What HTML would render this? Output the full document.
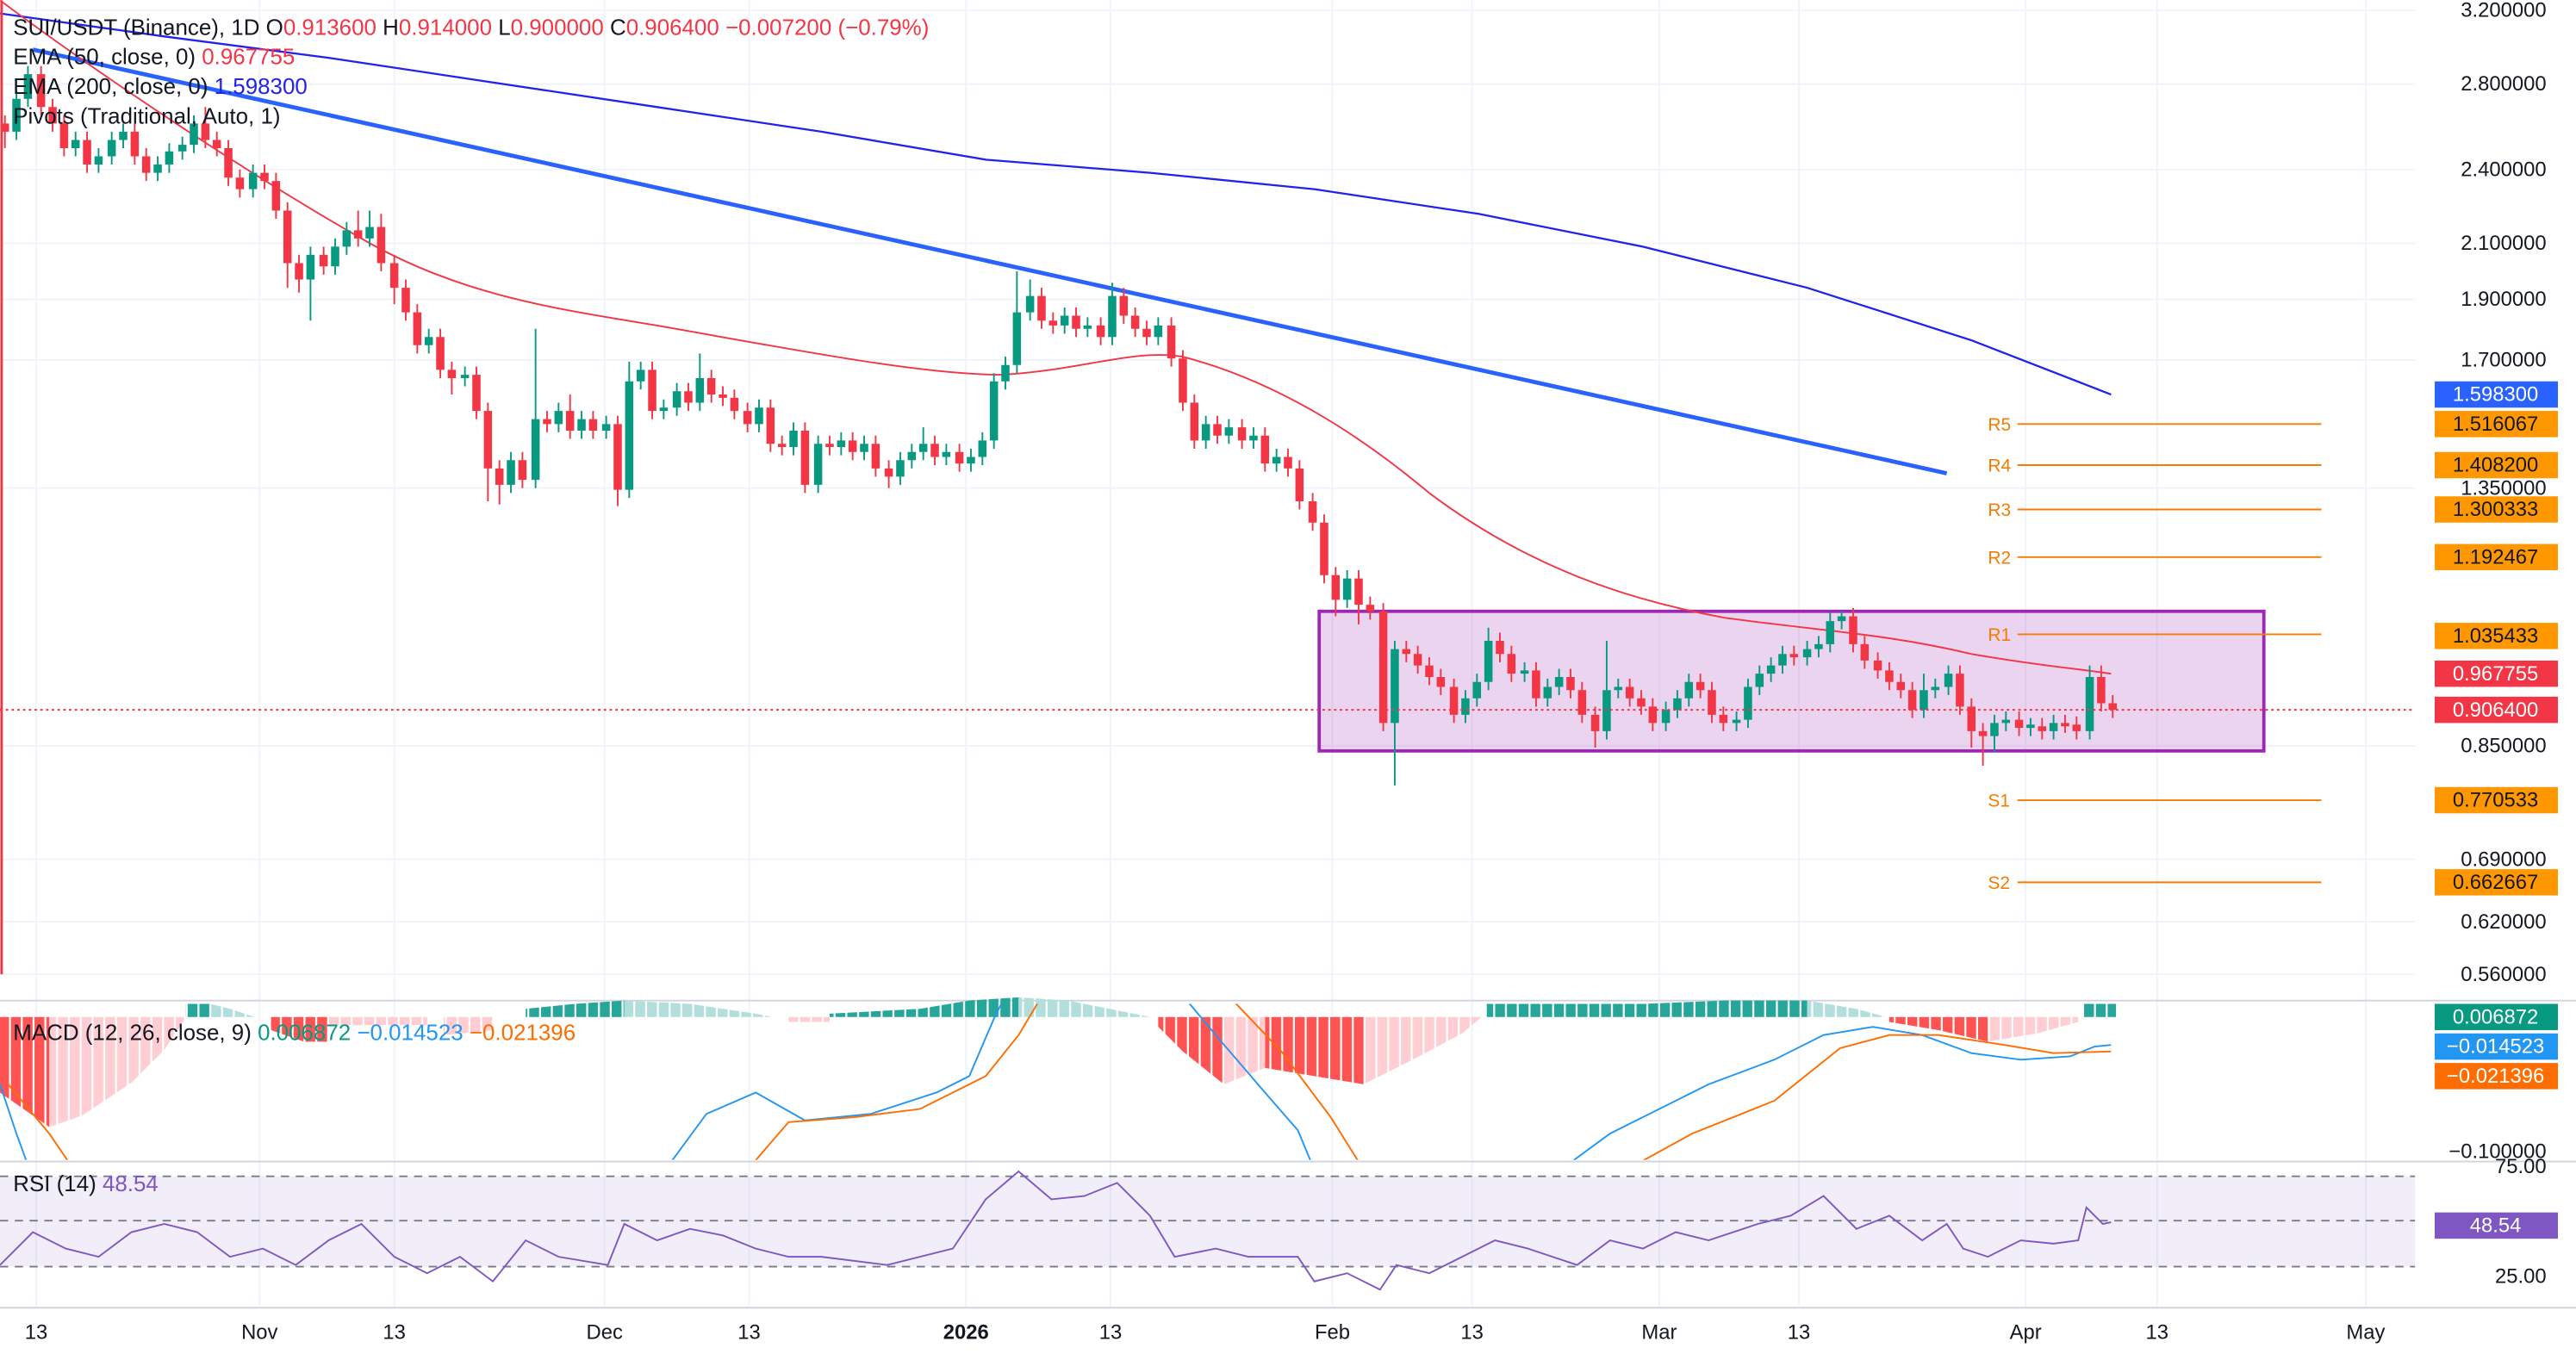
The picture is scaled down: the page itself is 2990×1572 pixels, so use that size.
<!DOCTYPE html>
<html><head><meta charset="utf-8"><style>
html,body{margin:0;padding:0;background:#fff;width:2990px;height:1572px;overflow:hidden}
svg{display:block}
text{font-family:"Liberation Sans",sans-serif}
</style></head><body>
<svg width="2990" height="1572" viewBox="0 0 1568 824" xmlns="http://www.w3.org/2000/svg">
<defs>
<clipPath id="cm"><rect x="0" y="611" width="1470" height="95"/></clipPath>
<clipPath id="cp"><rect x="0" y="0" width="1470" height="607"/></clipPath>
<pattern id="pG" width="7.17" height="10" patternUnits="userSpaceOnUse" x="-0.5"><rect width="6" height="10" fill="#26a69a"/></pattern>
<pattern id="pg" width="7.17" height="10" patternUnits="userSpaceOnUse" x="-0.5"><rect width="6" height="10" fill="#b2dfdb"/></pattern>
<pattern id="pR" width="7.17" height="10" patternUnits="userSpaceOnUse" x="-0.5"><rect width="6" height="10" fill="#ff5252"/></pattern>
<pattern id="pr" width="7.17" height="10" patternUnits="userSpaceOnUse" x="-0.5"><rect width="6" height="10" fill="#ffcdd2"/></pattern>
</defs>
<rect width="1568" height="824" fill="#fff"/>
<g stroke="#f0f3fa" stroke-width="1">
<line x1="0" y1="6" x2="1470" y2="6"/><line x1="0" y1="51" x2="1470" y2="51"/><line x1="0" y1="103" x2="1470" y2="103"/><line x1="0" y1="148" x2="1470" y2="148"/><line x1="0" y1="182" x2="1470" y2="182"/><line x1="0" y1="219" x2="1470" y2="219"/><line x1="0" y1="297" x2="1470" y2="297"/><line x1="0" y1="454" x2="1470" y2="454"/><line x1="0" y1="523" x2="1470" y2="523"/><line x1="0" y1="561" x2="1470" y2="561"/><line x1="0" y1="593" x2="1470" y2="593"/>
<line x1="22" y1="0" x2="22" y2="796"/><line x1="158" y1="0" x2="158" y2="796"/><line x1="240" y1="0" x2="240" y2="796"/><line x1="368" y1="0" x2="368" y2="796"/><line x1="456" y1="0" x2="456" y2="796"/><line x1="588" y1="0" x2="588" y2="796"/><line x1="676" y1="0" x2="676" y2="796"/><line x1="811" y1="0" x2="811" y2="796"/><line x1="896" y1="0" x2="896" y2="796"/><line x1="1010" y1="0" x2="1010" y2="796"/><line x1="1095" y1="0" x2="1095" y2="796"/><line x1="1233" y1="0" x2="1233" y2="796"/><line x1="1313" y1="0" x2="1313" y2="796"/><line x1="1440" y1="0" x2="1440" y2="796"/>
</g>
<line x1="0" y1="609" x2="1568" y2="609" stroke="#d1d4dc"/>
<line x1="0" y1="707" x2="1568" y2="707" stroke="#d1d4dc"/>
<line x1="0" y1="796" x2="1568" y2="796" stroke="#d1d4dc"/>

<rect x="803" y="372" width="575" height="85" fill="rgba(156,39,176,0.2)" stroke="#9c27b0" stroke-width="2"/>

<g stroke="#f57c00" stroke-width="1">
<line x1="1228" y1="258" x2="1413" y2="258"/><line x1="1228" y1="283" x2="1413" y2="283"/><line x1="1228" y1="310" x2="1413" y2="310"/><line x1="1228" y1="339" x2="1413" y2="339"/><line x1="1228" y1="386" x2="1413" y2="386"/><line x1="1228" y1="487" x2="1413" y2="487"/><line x1="1228" y1="537" x2="1413" y2="537"/>
</g>
<g font-size="11" fill="#f57c00">
<text x="1210" y="262">R5</text><text x="1210" y="287">R4</text><text x="1210" y="314">R3</text><text x="1210" y="343">R2</text><text x="1210" y="390">R1</text><text x="1210" y="491">S1</text><text x="1210" y="541">S2</text>
</g>

<g clip-path="url(#cp)" fill="none">
<path d="M0,8 L100,22 L200,35 L300,50 L400,65 L500,80 L600,97 L700,105 L800,115 L900,130 L1000,150 L1100,175 L1200,207 L1285,240" stroke="#2222ee" stroke-width="1.2"/>
<line x1="20" y1="30" x2="1185" y2="288" stroke="#2962ff" stroke-width="2.5"/>
<path d="M0,0 C60,45 150,105 220,145 C280,180 340,188 400,198 C480,212 560,228 610,228 C660,225 690,212 720,217 C770,230 820,258 870,300 C930,345 990,365 1050,376 C1110,384 1150,386 1200,398 C1240,405 1265,407 1285,410" stroke="#f23645" stroke-width="1"/>
</g>

<!-- green candles -->
<path fill="none" stroke="#089981" stroke-width="1" d="M10 55V85M17 40V65M46 80V95M60 90V105M68 80V100M75 75V90M96 95V110M103 87V105M111 83V97M118 70V93M154 100V120M189 150V195M204 145V167M211 135V155M225 128V150M261 200V215M283 223V235M311 275V300M326 200V297M340 245V263M354 250V267M369 253V267M383 220V303M390 220V237M404 243V255M412 233V253M426 215V250M462 243V263M483 257V277M498 265V300M512 263V277M526 265V280M548 275V295M555 270V285M562 260V280M576 270V283M591 273V287M598 263V283M605 227V273M612 217V237M619 165V227M627 170V195M648 187V203M662 193V205M677 172V210M705 193V210M734 253V273M748 255V270M763 260V273M777 273V287M820 347V370M849 390V478M892 420V440M899 410V430M906 382V420M928 403V415M942 413V430M949 407V423M978 390V450M985 413V425M1014 427V445M1021 420V437M1028 410V430M1057 433V445M1064 413V443M1071 405V423M1078 400V415M1085 393V410M1100 390V405M1107 387V400M1114 373V397M1121 372V383M1171 410V437M1178 413V425M1186 405V423M1214 435V458M1221 433V445M1236 437V448M1250 435V450M1272 405V450"/>
<path fill="#089981" d="M7.5 60h5V80h-5zM14.5 45h5V60h-5zM43.5 85h5V90h-5zM57.5 95h5V100h-5zM65.5 85h5V95h-5zM72.5 80h5V85h-5zM93.5 100h5V105h-5zM100.5 92h5V100h-5zM108.5 88h5V92h-5zM115.5 75h5V88h-5zM151.5 105h5V115h-5zM186.5 155h5V170h-5zM201.5 150h5V162h-5zM208.5 140h5V150h-5zM222.5 138h5V145h-5zM258.5 205h5V210h-5zM280.5 228h5V230h-5zM308.5 280h5V295h-5zM323.5 255h5V292h-5zM337.5 250h5V258h-5zM351.5 255h5V262h-5zM366.5 258h5V262h-5zM380.5 232h5V298h-5zM387.5 225h5V232h-5zM401.5 248h5V250h-5zM409.5 238h5V248h-5zM423.5 230h5V245h-5zM459.5 248h5V258h-5zM480.5 262h5V272h-5zM495.5 270h5V295h-5zM509.5 268h5V272h-5zM523.5 270h5V275h-5zM545.5 280h5V290h-5zM552.5 275h5V280h-5zM559.5 270h5V275h-5zM573.5 275h5V278h-5zM588.5 278h5V282h-5zM595.5 268h5V278h-5zM602.5 232h5V268h-5zM609.5 222h5V232h-5zM616.5 190h5V222h-5zM624.5 180h5V190h-5zM645.5 192h5V198h-5zM659.5 198h5V200h-5zM674.5 180h5V205h-5zM702.5 198h5V205h-5zM731.5 258h5V268h-5zM745.5 260h5V265h-5zM760.5 265h5V268h-5zM774.5 278h5V282h-5zM817.5 352h5V365h-5zM846.5 395h5V440h-5zM889.5 425h5V435h-5zM896.5 415h5V425h-5zM903.5 390h5V415h-5zM925.5 408h5V410h-5zM939.5 418h5V425h-5zM946.5 412h5V418h-5zM975.5 420h5V445h-5zM982.5 418h5V420h-5zM1011.5 432h5V440h-5zM1018.5 425h5V432h-5zM1025.5 415h5V425h-5zM1054.5 438h5V440h-5zM1061.5 418h5V438h-5zM1068.5 410h5V418h-5zM1075.5 405h5V410h-5zM1082.5 398h5V405h-5zM1097.5 395h5V400h-5zM1104.5 392h5V395h-5zM1111.5 378h5V392h-5zM1118.5 375h5V378h-5zM1168.5 420h5V432h-5zM1175.5 418h5V420h-5zM1183.5 410h5V418h-5zM1211.5 440h5V448h-5zM1218.5 438h5V440h-5zM1233.5 441h5V443h-5zM1247.5 440h5V445h-5zM1269.5 412h5V445h-5z"/>
<!-- red candles -->
<path fill="none" stroke="#f23645" stroke-width="1" d="M3 70V90M25 40V70M32 60V80M39 70V95M53 80V105M82 75V100M89 90V110M125 65V90M132 80V95M139 85V113M146 103V120M161 100V115M168 105V133M175 123V175M182 155V178M197 150V167M218 128V150M232 130V165M240 155V185M247 170V195M254 185V215M268 200V230M275 220V240M290 223V255M297 245V305M304 280V307M318 275V297M333 250V263M347 240V267M361 250V267M376 253V308M397 220V255M419 233V250M433 225V245M440 235V247M447 237V255M455 245V263M469 243V275M476 265V277M490 257V300M505 265V277M519 263V280M533 265V290M541 280V297M569 265V283M584 270V287M634 175V200M641 190V203M655 187V205M670 193V210M684 175V197M691 187V205M698 195V210M713 193V223M720 213V250M727 240V273M741 253V270M756 255V273M770 260V287M784 273V290M791 280V310M799 300V323M806 313V355M813 345V375M827 347V380M834 363V377M842 367V445M856 390V403M863 393V410M870 400V417M877 407V423M885 413V440M913 385V403M920 393V415M935 403V430M956 407V425M963 415V440M971 430V455M992 413V430M999 420V435M1006 425V445M1035 410V425M1042 415V440M1049 430V445M1092 393V405M1128 370V397M1135 387V407M1143 397V413M1150 403V420M1157 410V425M1164 415V437M1193 405V435M1200 425V455M1207 440V466M1229 433V448M1243 437V450M1257 435V446M1264 436V450M1279 405V433M1286 423V437"/>
<path fill="#f23645" d="M0.5 75h5V80h-5zM22.5 45h5V65h-5zM29.5 65h5V75h-5zM36.5 75h5V90h-5zM50.5 85h5V100h-5zM79.5 80h5V95h-5zM86.5 95h5V105h-5zM122.5 75h5V85h-5zM129.5 85h5V90h-5zM136.5 90h5V108h-5zM143.5 108h5V115h-5zM158.5 105h5V110h-5zM165.5 110h5V128h-5zM172.5 128h5V160h-5zM179.5 160h5V170h-5zM194.5 155h5V162h-5zM215.5 140h5V145h-5zM229.5 138h5V160h-5zM237.5 160h5V175h-5zM244.5 175h5V190h-5zM251.5 190h5V210h-5zM265.5 205h5V225h-5zM272.5 225h5V230h-5zM287.5 228h5V250h-5zM294.5 250h5V285h-5zM301.5 285h5V295h-5zM315.5 280h5V292h-5zM330.5 255h5V258h-5zM344.5 250h5V262h-5zM358.5 255h5V262h-5zM373.5 258h5V298h-5zM394.5 225h5V250h-5zM416.5 238h5V245h-5zM430.5 230h5V240h-5zM437.5 240h5V242h-5zM444.5 242h5V250h-5zM452.5 250h5V258h-5zM466.5 248h5V270h-5zM473.5 270h5V272h-5zM487.5 262h5V295h-5zM502.5 270h5V272h-5zM516.5 268h5V275h-5zM530.5 270h5V285h-5zM538.5 285h5V290h-5zM566.5 270h5V278h-5zM581.5 275h5V282h-5zM631.5 180h5V195h-5zM638.5 195h5V198h-5zM652.5 192h5V200h-5zM667.5 198h5V205h-5zM681.5 180h5V192h-5zM688.5 192h5V200h-5zM695.5 200h5V205h-5zM710.5 198h5V218h-5zM717.5 218h5V245h-5zM724.5 245h5V268h-5zM738.5 258h5V265h-5zM753.5 260h5V268h-5zM767.5 265h5V282h-5zM781.5 278h5V285h-5zM788.5 285h5V305h-5zM796.5 305h5V318h-5zM803.5 318h5V350h-5zM810.5 350h5V365h-5zM824.5 352h5V368h-5zM831.5 368h5V372h-5zM839.5 372h5V440h-5zM853.5 395h5V398h-5zM860.5 398h5V405h-5zM867.5 405h5V412h-5zM874.5 412h5V418h-5zM882.5 418h5V435h-5zM910.5 390h5V398h-5zM917.5 398h5V410h-5zM932.5 408h5V425h-5zM953.5 412h5V420h-5zM960.5 420h5V435h-5zM968.5 435h5V445h-5zM989.5 418h5V425h-5zM996.5 425h5V430h-5zM1003.5 430h5V440h-5zM1032.5 415h5V420h-5zM1039.5 420h5V435h-5zM1046.5 435h5V440h-5zM1089.5 398h5V400h-5zM1125.5 375h5V392h-5zM1132.5 392h5V402h-5zM1140.5 402h5V408h-5zM1147.5 408h5V415h-5zM1154.5 415h5V420h-5zM1161.5 420h5V432h-5zM1190.5 410h5V430h-5zM1197.5 430h5V445h-5zM1204.5 445h5V448h-5zM1226.5 438h5V443h-5zM1240.5 442h5V445h-5zM1254.5 440h5V442h-5zM1261.5 441h5V445h-5zM1276.5 412h5V428h-5zM1283.5 428h5V432h-5z"/>

<line x1="1" y1="0" x2="1" y2="593" stroke="#f23645" stroke-width="1.5"/>
<line x1="0" y1="432" x2="1470" y2="432" stroke="#f23645" stroke-width="1" stroke-dasharray="1.5,2"/>

<g font-size="12.5" fill="#131722" text-anchor="end">
<text x="1550" y="10">3.200000</text><text x="1550" y="55">2.800000</text><text x="1550" y="107">2.400000</text><text x="1550" y="152">2.100000</text><text x="1550" y="186">1.900000</text><text x="1550" y="223">1.700000</text><text x="1550" y="301">1.350000</text><text x="1550" y="458">0.850000</text><text x="1550" y="527">0.690000</text><text x="1550" y="565">0.620000</text><text x="1550" y="597">0.560000</text>
</g>
<g font-size="12.5" text-anchor="middle">
<rect x="1482" y="232" width="75" height="16" fill="#2962ff"/><text x="1519" y="244" fill="#fff">1.598300</text>
<rect x="1482" y="250" width="75" height="16" fill="#ff9800"/><text x="1519" y="262" fill="#131722">1.516067</text>
<rect x="1482" y="275" width="75" height="16" fill="#ff9800"/><text x="1519" y="287" fill="#131722">1.408200</text>
<rect x="1482" y="302" width="75" height="16" fill="#ff9800"/><text x="1519" y="314" fill="#131722">1.300333</text>
<rect x="1482" y="331" width="75" height="16" fill="#ff9800"/><text x="1519" y="343" fill="#131722">1.192467</text>
<rect x="1482" y="379" width="75" height="16" fill="#ff9800"/><text x="1519" y="391" fill="#131722">1.035433</text>
<rect x="1482" y="402" width="75" height="16" fill="#f23645"/><text x="1519" y="414" fill="#fff">0.967755</text>
<rect x="1482" y="424" width="75" height="16" fill="#f23645"/><text x="1519" y="436" fill="#fff">0.906400</text>
<rect x="1482" y="479" width="75" height="16" fill="#ff9800"/><text x="1519" y="491" fill="#131722">0.770533</text>
<rect x="1482" y="529" width="75" height="16" fill="#ff9800"/><text x="1519" y="541" fill="#131722">0.662667</text>
</g>

<g font-size="13.6" fill="#131722">
<text x="8" y="21">SUI/USDT (Binance), 1D  O<tspan fill="#f23645">0.913600</tspan>  H<tspan fill="#f23645">0.914000</tspan>  L<tspan fill="#f23645">0.900000</tspan>  C<tspan fill="#f23645">0.906400  −0.007200 (−0.79%)</tspan></text>
<text x="8" y="39">EMA (50, close, 0)  <tspan fill="#f23645">0.967755</tspan></text>
<text x="8" y="57">EMA (200, close, 0)  <tspan fill="#2222ee">1.598300</tspan></text>
<text x="8" y="75">Pivots (Traditional, Auto, 1)</text>
</g>

<!-- MACD histogram -->
<path fill="url(#pR)" d="M0 619V665L30 686V619ZM165 619V627L185 634L200 634V619ZM705 619V625L720 640L745 660V619ZM770 619V650L800 655L830 660V619ZM1150 619V622L1180 627L1210 634V619Z"/>
<path fill="url(#pr)" d="M30 619V686L50 679L80 659L100 639L112 621V619ZM200 619V624L260 624V619ZM270 619V630L300 627V619ZM480 619V622L505 622V619ZM745 619V660L770 650V619ZM830 619V660L860 645L890 629L902 619ZM1210 619V634L1240 629L1265 622V619Z"/>
<path fill="url(#pG)" d="M113 619V611L128 611V619ZM320 619V614L350 611L380 609V619ZM505 619V617L560 614L590 609L620 607V619ZM905 619V611L1000 611L1050 609L1100 609V619ZM1268 619V611L1288 611V619Z"/>
<path fill="url(#pg)" d="M128 619V611L140 614L155 619ZM380 619V609L420 611L460 617L470 619ZM620 619V607L650 609L690 617L700 619ZM1100 619V609L1130 614L1148 619Z"/>
<g clip-path="url(#cm)" fill="none" stroke-width="1">
<path stroke="#2196f3" d="M0,660 L10,690 L18,712"/>
<path stroke="#2196f3" d="M405,712 L430,678 L460,665 L490,682 L530,678 L570,665 L590,655 L605,620 L615,600"/>
<path stroke="#2196f3" d="M715,600 L740,630 L770,665 L790,688 L800,712"/>
<path stroke="#2196f3" d="M950,712 L980,690 L1000,680 L1040,660 L1080,645 L1110,630 L1140,625 L1170,630 L1200,641 L1230,645 L1260,643 L1275,637 L1285,636"/>
<path stroke="#ff6d00" d="M5,660 L30,690 L45,712"/>
<path stroke="#ff6d00" d="M455,712 L480,683 L520,680 L560,675 L600,655 L620,630 L638,600"/>
<path stroke="#ff6d00" d="M742,600 L780,640 L810,680 L830,712"/>
<path stroke="#ff6d00" d="M990,712 L1030,690 L1080,670 L1120,638 L1150,630 L1180,630 L1220,636 L1250,641 L1285,640"/>
</g>
<text x="8" y="633" font-size="13.6" fill="#131722">MACD (12, 26, close, 9)  <tspan fill="#089981">0.006872</tspan>  <tspan fill="#2196f3">−0.014523</tspan>  <tspan fill="#ff6d00">−0.021396</tspan></text>
<g font-size="12.5" text-anchor="middle">
<rect x="1482" y="611" width="75" height="16" fill="#089981"/><text x="1519" y="623" fill="#fff">0.006872</text>
<rect x="1482" y="629" width="75" height="16" fill="#2196f3"/><text x="1519" y="641" fill="#fff">−0.014523</text>
<rect x="1482" y="647" width="75" height="16" fill="#ff6d00"/><text x="1519" y="659" fill="#fff">−0.021396</text>
</g>
<text x="1550" y="705" font-size="12.5" fill="#131722" text-anchor="end">−0.100000</text>

<!-- RSI -->
<rect x="0" y="716" width="1470" height="55" fill="rgba(126,87,194,0.1)"/>
<g stroke="#787b86" stroke-width="1" stroke-dasharray="5,4">
<line x1="0" y1="716" x2="1470" y2="716"/><line x1="0" y1="743" x2="1470" y2="743"/><line x1="0" y1="771" x2="1470" y2="771"/>
</g>
<path fill="none" stroke="#7e57c2" stroke-width="1" d="M0,770 L20,750 L40,760 L60,765 L80,750 L100,745 L120,750 L140,765 L160,760 L180,770 L200,755 L220,745 L240,765 L260,775 L280,765 L300,780 L320,755 L340,765 L370,770 L380,745 L400,755 L420,748 L440,752 L460,760 L480,765 L500,765 L540,770 L580,760 L600,730 L620,713 L640,730 L660,728 L680,720 L700,740 L715,765 L740,760 L760,765 L790,765 L800,780 L820,775 L840,785 L850,770 L870,775 L890,765 L910,755 L930,760 L960,770 L980,755 L1000,760 L1020,750 L1040,755 L1070,745 L1090,740 L1110,728 L1130,748 L1150,740 L1170,755 L1185,745 L1195,760 L1210,765 L1230,755 L1250,757 L1265,755 L1270,735 L1280,745 L1285,744"/>
<text x="8" y="725" font-size="13.6" fill="#131722">RSI (14)  <tspan fill="#7e57c2">48.54</tspan></text>
<text x="1550" y="714" font-size="12.5" fill="#131722" text-anchor="end">75.00</text>
<text x="1550" y="781" font-size="12.5" fill="#131722" text-anchor="end">25.00</text>
<rect x="1482" y="738" width="75" height="16" fill="#7e57c2"/><text x="1519" y="750" font-size="12.5" fill="#fff" text-anchor="middle">48.54</text>

<g font-size="12.5" fill="#131722" text-anchor="middle">
<text x="22" y="815">13</text><text x="158" y="815">Nov</text><text x="240" y="815">13</text><text x="368" y="815">Dec</text><text x="456" y="815">13</text><text x="588" y="815" font-weight="bold">2026</text><text x="676" y="815">13</text><text x="811" y="815">Feb</text><text x="896" y="815">13</text><text x="1010" y="815">Mar</text><text x="1095" y="815">13</text><text x="1233" y="815">Apr</text><text x="1313" y="815">13</text><text x="1440" y="815">May</text>
</g>
</svg>
</body></html>
